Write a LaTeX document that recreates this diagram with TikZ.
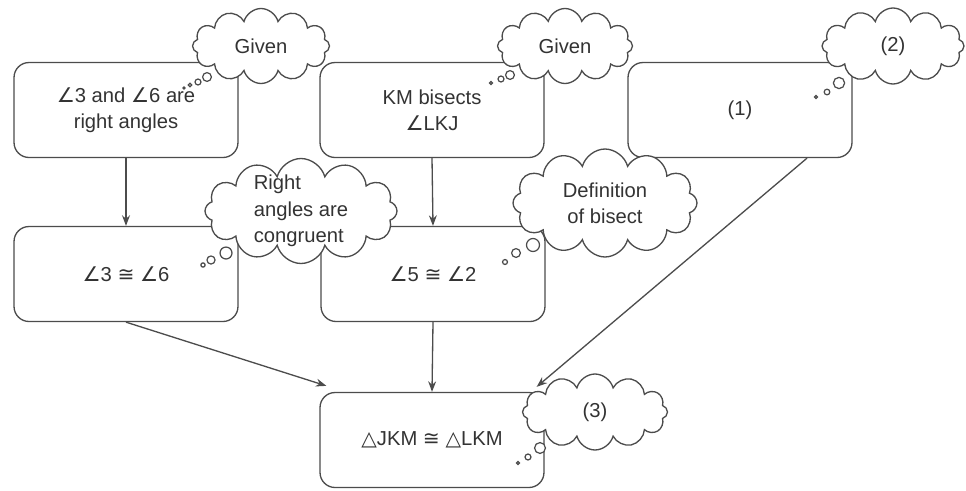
\documentclass[tikz,border=0pt]{standalone}
\usepackage{fontspec}
\setmainfont{Liberation Sans}
\newfontfamily\symfont{DejaVu Sans}
\usepackage{tikz}
\usetikzlibrary{shapes.symbols}
\usetikzlibrary{arrows.meta,calc}
\newcommand{\angl}{{\symfont ∠}}
\newcommand{\cngr}{{\symfont ≅}}
\newcommand{\trgl}{{\symfont △}}
\tikzset{
  stmt/.style={draw=black!70, line width=0.75pt, rounded corners=0.3cm, fill=white,
    minimum width=4.48cm, minimum height=1.9cm, align=center, text=black!80,
    font=\fontsize{11.5}{15}\selectfont},
  thought/.style={cloud, draw=black!70, line width=0.75pt, fill=white,
    cloud puffs=12, inner sep=0pt, text=black!80,
    font=\fontsize{11.5}{15}\selectfont},
  bubble/.style={draw=black!70, line width=0.7pt, fill=white},
  flow/.style={draw=black!70, line width=0.75pt, -{Stealth[length=6pt,width=4.5pt]}}
}

\begin{document}
\begin{tikzpicture}[x=0.02cm, y=-0.02cm]
\useasboundingbox (0,0) rectangle (966,490);

% statements
\node[stmt] (given) at (126,110) {\angl3 and \angl6 are\\right angles};
\node[stmt] (bisect) at (432,110) {KM bisects\\\angl LKJ};
\node[stmt] (one) at (740,110) {(1)};
\node[stmt] (rt) at (126,274) {\angl3 \cngr\ \angl6};
\node[stmt] (half) at (433,274) {\angl5 \cngr\ \angl2};
\node[stmt] (tri) at (432,440) {\trgl JKM \cngr\ \trgl LKM};

% arrows
\draw[flow] (given.south) -- (rt.north);
\draw[flow] (bisect.south) -- (half.north);
\draw[flow] (rt.south) -- ($(tri.north west)+(7,-6)$);
\draw[flow] (half.south) -- (tri.north);
\draw[flow] ($(one.south)+(67,0)$) -- ($(tri.north east)+(-8,-5)$);

% reasons
\node[thought, minimum width=2.74cm, minimum height=1.5cm, aspect=1.9] (rgiv1) at (261,46) {Given};
\node[thought, minimum width=2.7cm, minimum height=1.5cm, aspect=1.9] (rgiv2) at (565,46) {Given};
\node[thought, minimum width=2.84cm, minimum height=1.52cm, aspect=1.95] (rtwo) at (893,46) {(2)};
\node[thought, minimum width=3.84cm, minimum height=2.1cm, aspect=1.9, inner sep=-6pt, align=left] (rright) at (301,211) {Right\\angles are\\congruent};
\node[thought, minimum width=3.68cm, minimum height=2.16cm, aspect=1.9, align=center] (rdef) at (605,203) {Definition\\of bisect};
\node[thought, minimum width=2.9cm, minimum height=1.52cm, aspect=1.95] (rthree) at (595,412) {(3)};

% thought bubbles
\draw[bubble] (207,77) circle[radius=2.5pt];
\draw[bubble] (198,82) circle[radius=1.7pt];
\draw[bubble] (190,85) circle[radius=1pt];
\draw[bubble] (184,88) circle[radius=0.6pt];
\draw[bubble] (510,75) circle[radius=2.5pt];
\draw[bubble] (501,79) circle[radius=1.7pt];
\draw[bubble] (491,83) circle[radius=0.8pt];
\draw[bubble] (839,83) circle[radius=3.2pt];
\draw[bubble] (827,92) circle[radius=1.6pt];
\draw[bubble] (816,97) circle[radius=0.8pt];
\draw[bubble] (226,253) circle[radius=3.4pt];
\draw[bubble] (211,260) circle[radius=2.3pt];
\draw[bubble] (203,265) circle[radius=1.2pt];
\draw[bubble] (533,245) circle[radius=3.7pt];
\draw[bubble] (516,253) circle[radius=2.5pt];
\draw[bubble] (505,262) circle[radius=1.4pt];
\draw[bubble] (540,448) circle[radius=3.1pt];
\draw[bubble] (528,457) circle[radius=1.7pt];
\draw[bubble] (518,463) circle[radius=0.8pt];
\end{tikzpicture}
\end{document}
